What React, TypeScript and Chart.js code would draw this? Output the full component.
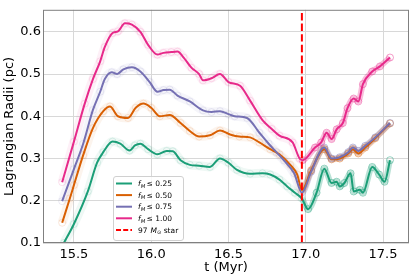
import React, { useEffect, useRef } from "react";
import { Chart, registerables } from "chart.js";

Chart.register(...registerables);

// ---------------- data ----------------
const STAR_TIME = 16.975;
const X_MIN = 15.3;
const X_MAX = 17.668;
const Y_MIN = 0.1;
const Y_MAX = 0.652;
const X_TICKS = [15.5, 16.0, 16.5, 17.0, 17.5];
const Y_TICKS = [0.1, 0.2, 0.3, 0.4, 0.5, 0.6];

const SERIES_LABELS = ["0.25", "0.50", "0.75", "1.00"];
const SERIES_COLORS = ["#1b9e77", "#d95f02", "#7570b3", "#e7298a"];

const T_025 = [15.435, 15.5, 15.59, 15.65, 15.69, 15.75, 15.8, 15.86, 15.895, 15.93, 15.98, 16.04, 16.1, 16.14, 16.19, 16.25, 16.31, 16.38, 16.445, 16.5, 16.555, 16.64, 16.72, 16.77, 16.83, 16.88, 16.93, 16.975, 17.015, 17.07, 17.12, 17.167, 17.2, 17.22, 17.25, 17.29, 17.31, 17.35, 17.37, 17.43, 17.475, 17.51, 17.545];
const R_025 = [0.1, 0.145, 0.222, 0.29, 0.315, 0.34, 0.335, 0.319, 0.331, 0.335, 0.322, 0.31, 0.318, 0.317, 0.296, 0.285, 0.283, 0.28, 0.3, 0.29, 0.273, 0.264, 0.265, 0.262, 0.25, 0.234, 0.219, 0.205, 0.18, 0.219, 0.276, 0.242, 0.245, 0.234, 0.242, 0.265, 0.222, 0.226, 0.219, 0.28, 0.262, 0.245, 0.296];

const T_050 = [15.424, 15.474, 15.5, 15.56, 15.623, 15.69, 15.733, 15.785, 15.85, 15.9, 15.95, 16.0, 16.056, 16.12, 16.19, 16.25, 16.31, 16.38, 16.445, 16.51, 16.57, 16.64, 16.7, 16.77, 16.83, 16.9, 16.945, 16.975, 17.035, 17.12, 17.167, 17.22, 17.275, 17.305, 17.34, 17.385, 17.45, 17.545];
const R_050 = [0.148, 0.206, 0.237, 0.308, 0.372, 0.412, 0.423, 0.4, 0.396, 0.42, 0.43, 0.42, 0.4, 0.403, 0.384, 0.365, 0.352, 0.355, 0.366, 0.357, 0.352, 0.35, 0.338, 0.322, 0.31, 0.285, 0.262, 0.225, 0.272, 0.322, 0.298, 0.3, 0.312, 0.322, 0.312, 0.326, 0.348, 0.383];

const T_075 = [15.424, 15.5, 15.56, 15.623, 15.67, 15.7, 15.745, 15.78, 15.82, 15.875, 15.93, 15.99, 16.04, 16.08, 16.12, 16.17, 16.25, 16.335, 16.39, 16.445, 16.5, 16.54, 16.62, 16.7, 16.76, 16.81, 16.86, 16.925, 16.975, 17.035, 17.12, 17.167, 17.22, 17.275, 17.305, 17.34, 17.385, 17.45, 17.545];
const R_075 = [0.199, 0.275, 0.335, 0.415, 0.458, 0.488, 0.504, 0.5, 0.511, 0.516, 0.506, 0.481, 0.458, 0.462, 0.463, 0.449, 0.435, 0.414, 0.41, 0.412, 0.405, 0.4, 0.396, 0.361, 0.335, 0.315, 0.295, 0.265, 0.219, 0.269, 0.326, 0.3, 0.303, 0.315, 0.326, 0.318, 0.33, 0.35, 0.384];

const T_100 = [15.424, 15.5, 15.57, 15.623, 15.67, 15.7, 15.75, 15.785, 15.83, 15.875, 15.93, 15.98, 16.04, 16.08, 16.13, 16.17, 16.21, 16.26, 16.31, 16.335, 16.39, 16.445, 16.5, 16.575, 16.64, 16.72, 16.78, 16.83, 16.915, 16.96, 16.98, 17.06, 17.1, 17.135, 17.167, 17.2, 17.24, 17.27, 17.31, 17.34, 17.37, 17.43, 17.48, 17.545];
const R_100 = [0.244, 0.34, 0.43, 0.488, 0.53, 0.564, 0.597, 0.601, 0.62, 0.617, 0.6, 0.569, 0.546, 0.55, 0.552, 0.553, 0.539, 0.515, 0.5, 0.485, 0.49, 0.5, 0.481, 0.472, 0.437, 0.391, 0.37, 0.354, 0.338, 0.3, 0.296, 0.326, 0.338, 0.361, 0.346, 0.369, 0.384, 0.419, 0.442, 0.435, 0.476, 0.506, 0.518, 0.539];

const SERIES_T = [T_025, T_050, T_075, T_100];
const SERIES_R = [R_025, R_050, R_075, R_100];

const X_TITLE = "t (Myr)";
const Y_TITLE = "Lagrangian Radii (pc)";
const STAR_LABEL_PREFIX = "97 ";
const STAR_LABEL_SUFFIX = " star";

// ---------------- helpers ----------------
const FONT = "'DejaVu Sans', 'Liberation Sans', sans-serif";

function rgba(hex: string, a: number) {
  const n = parseInt(hex.slice(1), 16);
  return `rgba(${(n >> 16) & 255},${(n >> 8) & 255},${n & 255},${a})`;
}

const decorPlugin = {
  id: "decor",
  afterDatasetsDraw(chart: any) {
    const { ctx, chartArea: a } = chart;
    ctx.save();
    ctx.strokeStyle = "#808080";
    ctx.lineWidth = 1;
    ctx.strokeRect(a.left + 0.5, a.top + 0.5, a.right - a.left - 1, a.bottom - a.top - 1);
    ctx.restore();
  },
  afterDraw(chart: any) {
    const { ctx, chartArea: a } = chart;
    ctx.save();
    ctx.fillStyle = "#000";
    ctx.font = `13px ${FONT}`;
    ctx.textAlign = "center";
    ctx.textBaseline = "middle";
    ctx.fillText(X_TITLE, (a.left + a.right) / 2, 268);
    ctx.save();
    ctx.translate(10, (a.top + a.bottom) / 2);
    ctx.rotate(-Math.PI / 2);
    ctx.fillText(Y_TITLE, 0, 0);
    ctx.restore();

    // legend
    const lx = a.left + 70;
    const ly = a.bottom - 67;
    const lw = 70;
    const lh = 64;
    ctx.beginPath();
    (ctx as any).roundRect(lx + 0.5, ly + 0.5, lw, lh, 2.5);
    ctx.fillStyle = "rgba(255,255,255,0.85)";
    ctx.fill();
    ctx.strokeStyle = "#d0d0d0";
    ctx.lineWidth = 1;
    ctx.stroke();

    ctx.textAlign = "left";
    ctx.textBaseline = "alphabetic";
    const rowH = 11.6;
    const fs = 7.5;
    for (let i = 0; i < 5; i++) {
      const y = ly + 7.5 + i * rowH;
      ctx.beginPath();
      ctx.moveTo(lx + 3, y);
      ctx.lineTo(lx + 19, y);
      ctx.lineWidth = 2;
      if (i < 4) {
        ctx.strokeStyle = SERIES_COLORS[i];
        ctx.setLineDash([]);
      } else {
        ctx.strokeStyle = "#ff0000";
        ctx.setLineDash([5, 2.2]);
      }
      ctx.stroke();
      ctx.setLineDash([]);
      ctx.fillStyle = "#000";
      const base = y + 2.7;
      let x = lx + 25;
      if (i < 4) {
        ctx.font = `italic ${fs}px ${FONT}`;
        ctx.fillText("f", x, base);
        x += ctx.measureText("f").width + 0.2;
        ctx.font = `italic ${fs * 0.7}px ${FONT}`;
        ctx.fillText("M", x, base + 1.5);
        x += ctx.measureText("M").width + 1.2;
        ctx.font = `${fs}px ${FONT}`;
        ctx.fillText("\u2264 " + SERIES_LABELS[i], x, base);
      } else {
        ctx.font = `${fs}px ${FONT}`;
        ctx.fillText(STAR_LABEL_PREFIX, x, base);
        x += ctx.measureText(STAR_LABEL_PREFIX).width + 0.5;
        ctx.font = `italic ${fs}px ${FONT}`;
        ctx.fillText("M", x, base);
        x += ctx.measureText("M").width;
        ctx.font = `${fs * 0.7}px ${FONT}`;
        ctx.fillText("\u2299", x, base + 1.5);
        x += ctx.measureText("\u2299").width;
        ctx.font = `${fs}px ${FONT}`;
        ctx.fillText(STAR_LABEL_SUFFIX, x, base);
      }
    }
    ctx.restore();
  },
};

export default function App() {
  const ref = useRef<HTMLCanvasElement | null>(null);

  useEffect(() => {
    if (!ref.current) return;
    const datasets: any[] = [];
    SERIES_T.forEach((ts, i) => {
      const pts = ts.map((t, j) => ({ x: t, y: SERIES_R[i][j] }));
      const color = SERIES_COLORS[i];
      // soft halo standing in for the dense cloud of raw snapshot markers
      datasets.push({
        label: "halo" + i,
        data: pts,
        showLine: true,
        borderWidth: 7,
        borderColor: rgba(color, 0.08),
        segment: {
          borderColor: (c: any) =>
            c.p0.parsed.x >= STAR_TIME - 0.001 ? rgba(color, 0.3) : rgba(color, 0.07),
          borderWidth: (c: any) => (c.p0.parsed.x >= STAR_TIME - 0.001 ? 6 : 9),
        },
        pointRadius: 0,
        cubicInterpolationMode: "monotone",
        order: 30 - i,
      });
      datasets.push({
        label: "markers" + i,
        data: pts,
        showLine: false,
        pointRadius: 3.5,
        pointBorderWidth: 1,
        pointBackgroundColor: "rgba(0,0,0,0)",
        pointBorderColor: (c: any) =>
          c.raw && c.raw.x > STAR_TIME + 0.001 ? rgba(color, 0.45) : rgba(color, 0.14),
        order: 20 - i,
      });
      datasets.push({
        label: SERIES_LABELS[i],
        data: pts,
        showLine: true,
        borderColor: color,
        borderWidth: 2,
        pointRadius: 0,
        cubicInterpolationMode: "monotone",
        order: 10 - i,
      });
    });
    datasets.push({
      label: "star",
      data: [
        { x: STAR_TIME, y: Y_MIN },
        { x: STAR_TIME, y: Y_MAX },
      ],
      showLine: true,
      borderColor: "#ff0000",
      borderWidth: 2,
      borderDash: [7.4, 3.2],
      pointRadius: 0,
      order: 0,
    });

    const tickFont = { family: FONT, size: 13 };
    const chart = new Chart(ref.current, {
      type: "scatter",
      data: { datasets },
      plugins: [decorPlugin],
      options: {
        animation: false,
        responsive: false,
        maintainAspectRatio: false,
        devicePixelRatio: 1,
        layout: { padding: { top: 5, right: 6, left: 0, bottom: 0 } },
        plugins: { legend: { display: false }, tooltip: { enabled: false } },
        scales: {
          x: {
            type: "linear",
            min: X_MIN,
            max: X_MAX,
            afterBuildTicks: (s: any) => {
              s.ticks = X_TICKS.map((v) => ({ value: v }));
            },
            afterFit: (s: any) => {
              s.height = 36;
            },
            grid: { color: "#d8d8d8", drawTicks: false, lineWidth: 1 },
            border: { display: false },
            ticks: {
              padding: 4,
              color: "#000",
              font: tickFont,
              maxRotation: 0,
              autoSkip: false,
              callback: (v: any) => Number(v).toFixed(1),
            },
          },
          y: {
            type: "linear",
            min: Y_MIN,
            max: Y_MAX,
            afterBuildTicks: (s: any) => {
              s.ticks = Y_TICKS.map((v) => ({ value: v }));
            },
            afterFit: (s: any) => {
              s.width = 43;
            },
            grid: { color: "#d8d8d8", drawTicks: false, lineWidth: 1 },
            border: { display: false },
            ticks: {
              padding: 2,
              color: "#000",
              font: tickFont,
              autoSkip: false,
              callback: (v: any) => Number(v).toFixed(1),
            },
          },
        },
      } as any,
    });
    return () => chart.destroy();
  }, []);

  return (
    <div style={{ position: "fixed", left: 0, top: 0, width: 415, height: 279, background: "#fff" }}>
      <canvas ref={ref} width={415} height={279} style={{ display: "block", width: 415, height: 279 }} />
    </div>
  );
}
